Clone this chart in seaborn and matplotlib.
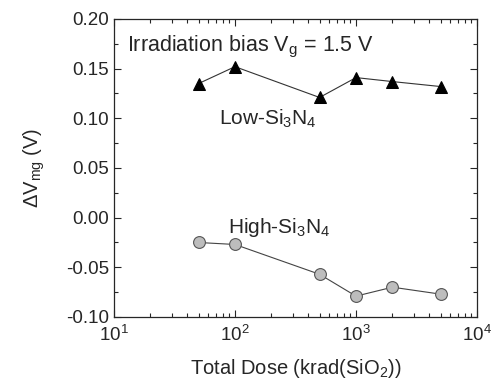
import numpy as np
import pandas as pd
import matplotlib
matplotlib.use("Agg")
import matplotlib.pyplot as plt
import seaborn as sns
from matplotlib.ticker import LogLocator, MultipleLocator, NullFormatter

# ==============================
# DATI
# ==============================
dose = [50, 100, 500, 1000, 2000, 5000]
low_si3n4 = [0.135, 0.152, 0.121, 0.141, 0.137, 0.132]
high_si3n4 = [-0.025, -0.027, -0.057, -0.079, -0.070, -0.077]

df_low = pd.DataFrame({"dose": dose, "dv": low_si3n4})
df_high = pd.DataFrame({"dose": dose, "dv": high_si3n4})

# ==============================
# STILE
# ==============================
sns.set_style("ticks")
plt.rcParams["font.family"] = ["Liberation Sans", "DejaVu Sans"]
plt.rcParams["mathtext.fontset"] = "custom"
plt.rcParams["mathtext.rm"] = "Liberation Sans"
plt.rcParams["mathtext.it"] = "Liberation Sans"

fig = plt.figure(figsize=(4.92, 3.90), dpi=100)
ax = fig.add_axes([0.2317, 0.1872, 0.7378, 0.7641])

sns.lineplot(data=df_low, x="dose", y="dv", ax=ax, color="#333333", lw=0.8,
             marker="^", markersize=9, markerfacecolor="black",
             markeredgecolor="black")
sns.lineplot(data=df_high, x="dose", y="dv", ax=ax, color="#444444", lw=0.8,
             marker="o", markersize=8.5, markerfacecolor="#bdbdbd",
             markeredgecolor="#555555", markeredgewidth=0.8)

ax.set_xscale("log")
ax.set_xlim(10, 1e4)
ax.set_ylim(-0.10, 0.20)
ax.yaxis.set_major_locator(MultipleLocator(0.05))
ax.yaxis.set_minor_locator(MultipleLocator(0.025))
ax.yaxis.set_major_formatter(matplotlib.ticker.FormatStrFormatter("%.2f"))
ax.xaxis.set_major_locator(LogLocator(base=10, numticks=10))
ax.xaxis.set_minor_locator(LogLocator(base=10, subs=np.arange(2, 10), numticks=10))
ax.xaxis.set_minor_formatter(NullFormatter())

ax.tick_params(which="both", direction="in", top=True, right=True,
               labelsize=13.5, width=0.8)
ax.tick_params(which="major", length=5)
ax.tick_params(which="minor", length=3)
ax.tick_params(axis="x", pad=6)
for s in ax.spines.values():
    s.set_linewidth(0.9)

ax.set_xlabel(r"Total Dose (krad(SiO$_2$))", fontsize=14.5, labelpad=8)
ax.set_ylabel(r"$\Delta$V$_{\rm mg}$ (V)", fontsize=14.5, labelpad=14)

ax.text(0.035, 0.905, r"Irradiation bias V$_{\rm g}$ = 1.5 V",
        transform=ax.transAxes, fontsize=15.5, va="center", ha="left")
ax.text(0.29, 0.665, r"Low-Si$_3$N$_4$", transform=ax.transAxes,
        fontsize=15, va="center", ha="left")
ax.text(0.315, 0.30, r"High-Si$_3$N$_4$", transform=ax.transAxes,
        fontsize=15, va="center", ha="left")

fig.savefig("out.png", dpi=100)
